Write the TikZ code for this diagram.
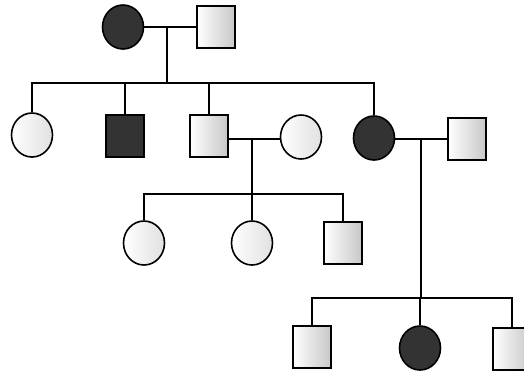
\documentclass[tikz,border=0pt]{standalone}
\usetikzlibrary{shapes.geometric}
\begin{document}
\begin{tikzpicture}[x=1pt,y=-1pt,
  line width=1.6pt,
  male/.style={draw, rectangle, minimum width=38pt, minimum height=42pt, inner sep=0pt},
  female/.style={draw, ellipse, minimum width=41pt, minimum height=44pt, inner sep=0pt},
  affected/.style={fill=black!80},
  normal/.style={left color=white, right color=black!22},
  normalf/.style={left color=white, right color=black!12}]
\useasboundingbox (0,0) rectangle (524,373);
\clip (0,0) rectangle (524,373);
% Generation I
\node[female,affected] (I1) at (123,27) {};
\node[male,normal] (I2) at (216,27) {};
% Generation II
\node[female,normalf] (II1) at (32,135) {};
\node[male,affected] (II2) at (125,136) {};
\node[male,normal] (II3) at (209,136) {};
\node[female,normalf] (II4) at (301,137) {};
\node[female,affected] (II5) at (374,138) {};
\node[male,normal] (II6) at (467,139) {};
% Generation III
\node[female,normalf] (III1) at (144,243) {};
\node[female,normalf] (III2) at (252,243) {};
\node[male,normal] (III3) at (343,243) {};
% Generation IV
\node[male,normal] (IV1) at (312,347) {};
\node[female,affected] (IV2) at (420,348) {};
\node[male,normal] (IV3) at (512,349) {};
% junctions
\coordinate (m1) at (167,27);
\coordinate (s1) at (167,83);
\coordinate (m2) at (252,139);
\coordinate (s2) at (252,194);
\coordinate (m3) at (421,139);
\coordinate (s3) at (421,298);
% Gen I mating and sibship
\draw (I1.east) -- (I2.west);
\draw (m1) -- (s1);
\draw (II1.north) |- (s1) -| (II5.north);
\draw (II2.north) |- (s1);
\draw (II3.north) |- (s1);
% Gen II matings
\draw (II3.east |- m2) -- (II4.west |- m2);
\draw (m2) -- (s2);
\draw (III1.north) |- (s2) -| (III3.north);
\draw (III2.north) -- (s2);
\draw (II5.east |- m3) -- (II6.west |- m3);
\draw (m3) -- (s3);
\draw (IV1.north) |- (s3) -| (IV3.north);
\draw (IV2.north) |- (s3);
\end{tikzpicture}
\end{document}
